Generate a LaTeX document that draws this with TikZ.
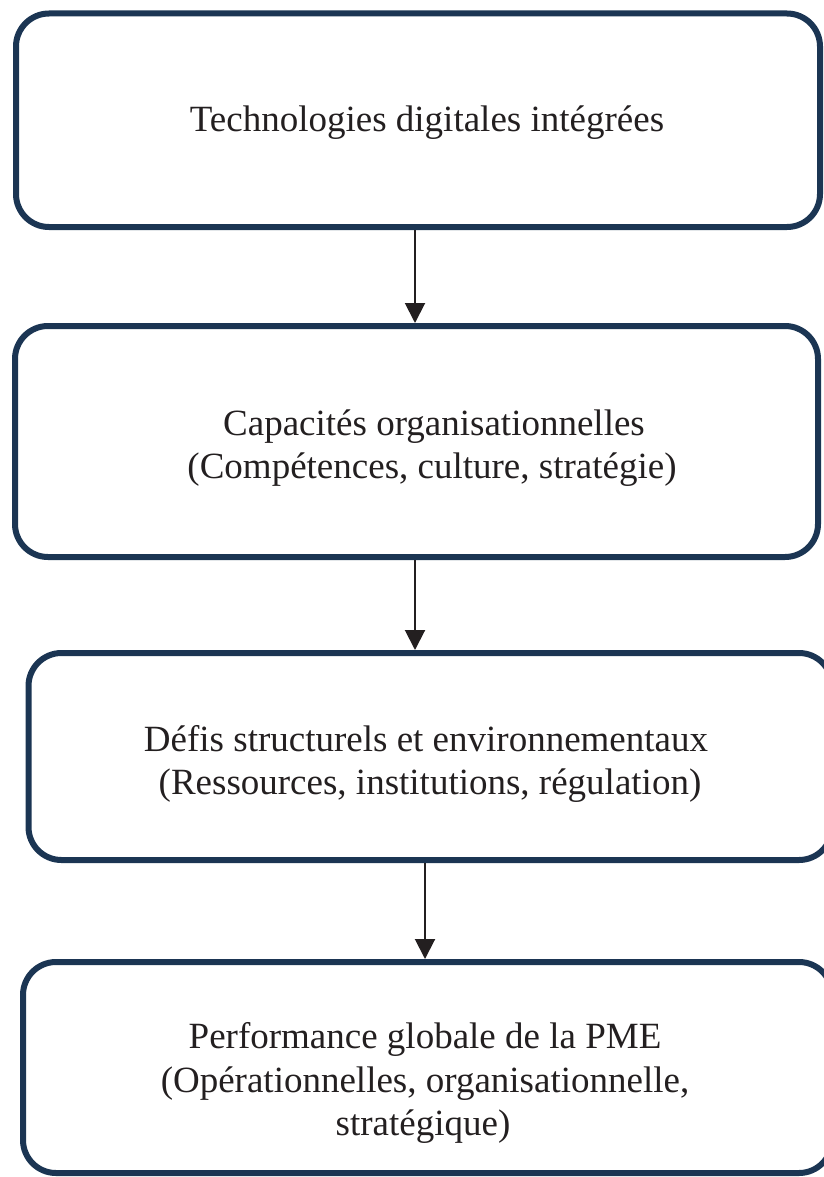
\documentclass[tikz,border=0pt]{standalone}
\usepackage{fontspec}
\setmainfont{Liberation Serif}
\usetikzlibrary{arrows.meta}
\definecolor{navy}{HTML}{1B3553}
\definecolor{ink}{HTML}{231F20}
\begin{document}
\begin{tikzpicture}[x=1pt,y=-1pt,
  box/.style={draw=navy, line width=6pt, rounded corners=33pt, rectangle, inner sep=0pt},
  txt/.style={anchor=base, font=\fontsize{37}{43}\selectfont, text=ink, inner sep=0pt},
  arr/.style={draw=ink, line width=2pt, -{Triangle[width=20pt,length=20pt]}}]
\useasboundingbox (0,0) rectangle (823,1177);
% boxes
\node[box, minimum width=804pt, minimum height=213.5pt] (b1) at (418,120.25) {};
\node[box, minimum width=803pt, minimum height=231pt] (b2) at (416.5,441.5) {};
\node[box, minimum width=803.5pt, minimum height=207pt] (b3) at (430.25,756.5) {};
\node[box, minimum width=809pt, minimum height=211pt] (b4) at (427.5,1067.5) {};
% texts
\node[txt] (t1) at (427,132) {Technologies digitales intégrées};
\node[txt] (t2a) at (434,435) {Capacités organisationnelles};
\node[txt] (t2b) at (432,478) {(Compétences, culture, stratégie)};
\node[txt] (t3a) at (426,751) {Défis structurels et environnementaux};
\node[txt] (t3b) at (430,794) {(Ressources, institutions, régulation)};
\node[txt] (t4a) at (425,1048) {Performance globale de la PME};
\node[txt] (t4b) at (425,1092) {(Opérationnelles, organisationnelle,};
\node[txt] (t4c) at (423,1135) {stratégique)};
% arrows
\coordinate (c1) at (415,0);
\coordinate (c2) at (415,0);
\coordinate (c3) at (425,0);
\draw[arr] (b1.south -| c1) -- (b2.north -| c1);
\draw[arr] (b2.south -| c2) -- (b3.north -| c2);
\draw[arr] (b3.south -| c3) -- (b4.north -| c3);
\end{tikzpicture}
\end{document}
